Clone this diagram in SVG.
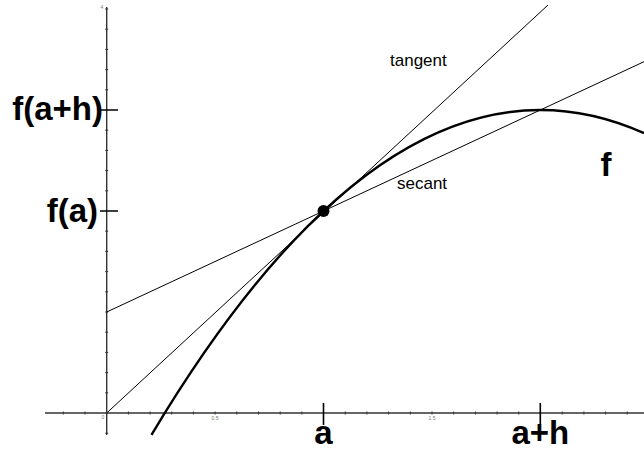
<svg xmlns="http://www.w3.org/2000/svg" width="644" height="450" viewBox="0 0 644 450">
<style>
.axis{stroke:#333;stroke-width:1.4;fill:none}
.tick{stroke:#333;stroke-width:1;fill:none}
.big{stroke:#000;stroke-width:1.6}
.thin{stroke:#000;stroke-width:1;fill:none}
.lbl{font-family:"Liberation Sans",Arial,sans-serif;font-weight:bold;font-size:33px;fill:#000}
.sm{font-family:"Liberation Sans",Arial,sans-serif;font-size:17px;fill:#000}
.tiny{font-family:"Liberation Sans",Arial,sans-serif;font-size:5px;fill:#777}
</style>
<rect width="644" height="450" fill="#fff"/>
<g id="axes">
<line class="axis" x1="45" y1="413" x2="644" y2="413"/>
<line class="axis" x1="106.7" y1="7" x2="106.7" y2="435"/>
<path class="tick" d="M63.3 411.5v3M85 411.5v3M128.4 411.5v3M150.1 411.5v3M171.7 411.5v3M193.4 411.5v3M215.1 411.5v3M236.8 411.5v3M258.5 411.5v3M280.2 411.5v3M301.9 411.5v3M345.2 411.5v3M366.9 411.5v3M388.6 411.5v3M410.3 411.5v3M432 411.5v3M453.7 411.5v3M475.4 411.5v3M497.1 411.5v3M518.8 411.5v3M562.2 411.5v3M583.9 411.5v3M605.6 411.5v3M627.2 411.5v3"/>
<path class="tick" d="M105.2 9h3M105.2 29.2h3M105.2 49.4h3M105.2 69.6h3M105.2 89.8h3M105.2 130.2h3M105.2 150.4h3M105.2 170.6h3M105.2 190.8h3M105.2 231.2h3M105.2 251.4h3M105.2 271.6h3M105.2 291.8h3M105.2 312h3M105.2 332.2h3M105.2 352.4h3M105.2 372.6h3M105.2 392.8h3M105.2 433.2h3"/>
<path class="big" d="M100 110H118M100 211H118M323.5 403V425M540.3 403V425"/>
<text class="tiny" x="102" y="9" text-anchor="middle">4</text>
<text class="tiny" x="103" y="419" text-anchor="middle">0</text>
<text class="tiny" x="215" y="420" text-anchor="middle">0.5</text>
<text class="tiny" x="432" y="420" text-anchor="middle">1.5</text>
</g>
<g id="lines">
<line id="tangent" class="thin" x1="106.7" y1="413" x2="548" y2="5"/>
<line id="secant" class="thin" x1="106.7" y1="312" x2="644" y2="61.7"/>
</g>
<g id="curve">
<path d="M151.5 434.8Q397.75 23.3 644 133.1" fill="none" stroke="#000" stroke-width="2.4"/>
</g>
<g id="point">
<circle cx="323.5" cy="211" r="6" fill="#000"/>
</g>
<g id="labels">
<text class="lbl" x="103" y="120" text-anchor="end">f(a+h)</text>
<text class="lbl" x="98" y="222" text-anchor="end">f(a)</text>
<text class="lbl" x="323.5" y="444" text-anchor="middle">a</text>
<text class="lbl" x="540.3" y="444" text-anchor="middle">a+h</text>
<text class="lbl" x="606" y="176" text-anchor="middle">f</text>
<text class="sm" x="390" y="66">tangent</text>
<text class="sm" x="397" y="189">secant</text>
</g>
</svg>
